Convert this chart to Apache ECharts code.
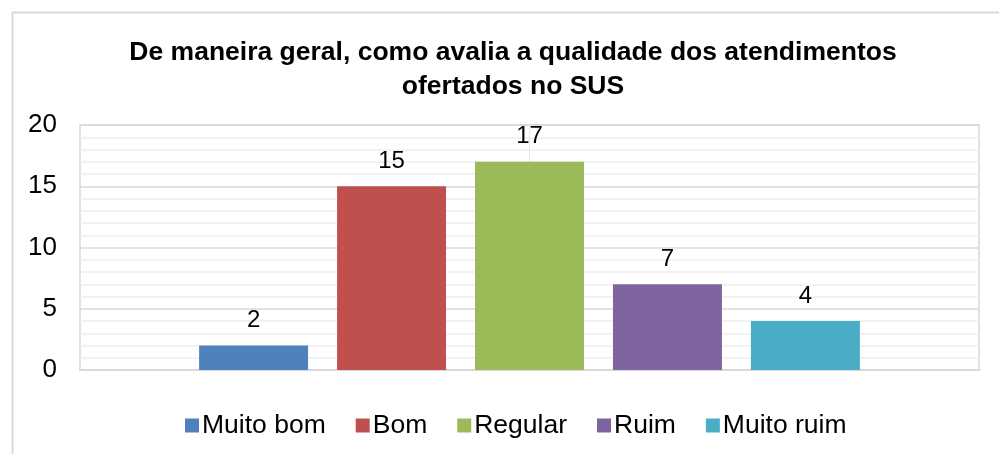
<!DOCTYPE html>
<html>
<head>
<meta charset="utf-8">
<script src="https://cdn.jsdelivr.net/npm/echarts@6/dist/echarts.min.js"></script>
<style>
html,body{margin:0;padding:0;background:#fff;}
#c{width:999px;height:454px;}
</style>
</head>
<body>
<div id="c"></div>
<script>
const titleText = 'De maneira geral, como avalia a qualidade dos atendimentos\nofertados no SUS';
const categories = ['Total'];
const seriesNames = ['Muito bom', 'Bom', 'Regular', 'Ruim', 'Muito ruim'];
const seriesValues = [2, 15, 17, 7, 4];
const seriesColors = ['#4f81bd', '#c0504d', '#9bbb59', '#8064a2', '#4bacc6'];
const yTicks = [0, 5, 10, 15, 20];

const FONT = 'Liberation Sans, Arial, sans-serif';
const chart = echarts.init(document.getElementById('c'), null, {renderer: 'canvas'});

const barSeries = seriesNames.map((name, i) => ({
  name: name,
  type: 'bar',
  data: [seriesValues[i]],
  itemStyle: {color: seriesColors[i]},
  barGap: '26.6%',
  barCategoryGap: '26.5%',
  z: 3,
  label: {
    show: true,
    position: 'top',
    distance: 13,
    color: '#000',
    fontSize: 24,
    fontFamily: FONT
  }
}));

barSeries.push({
  name: '_center',
  type: 'line',
  data: [],
  z: 1,
  silent: true,
  markLine: {
    silent: true,
    z: 1,
    symbol: 'none',
    label: {show: false},
    lineStyle: {color: '#e6e6e6', width: 1, type: 'solid'},
    data: [{xAxis: 0}]
  }
});

chart.setOption({
  animation: false,
  backgroundColor: '#fff',
  graphic: [{
    type: 'rect',
    left: 10, top: 10,
    shape: {width: 1010, height: 470},
    style: {fill: 'none', stroke: '#d9d9d9', lineWidth: 2},
    z: -1
  }],
  title: {
    text: titleText,
    left: 508,
    textAlign: 'center',
    top: 31,
    textStyle: {
      fontFamily: FONT,
      fontWeight: 'bold',
      fontSize: 26.5,
      lineHeight: 34,
      color: '#000'
    }
  },
  legend: {
    data: seriesNames,
    top: 407,
    left: 180,
    itemWidth: 14,
    itemHeight: 14,
    itemGap: 30,
    icon: 'rect',
    textStyle: {fontFamily: FONT, fontSize: 26.5, color: '#000', padding: [0, 0, 0, -2]}
  },
  grid: {
    left: 80, right: 20, top: 125, bottom: 84,
    show: true,
    borderColor: '#d9d9d9',
    borderWidth: 1.5,
    containLabel: false
  },
  xAxis: {
    type: 'category',
    data: categories,
    axisLine: {show: true, lineStyle: {color: '#d9d9d9', width: 2}},
    axisTick: {show: false},
    axisLabel: {show: false},
    splitLine: {show: false}
  },
  yAxis: {
    type: 'value',
    min: 0,
    max: 20,
    interval: 5,
    axisLine: {show: false},
    axisTick: {show: false},
    axisLabel: {
      color: '#000',
      fontSize: 26,
      fontFamily: FONT,
      margin: 23,
      formatter: v => yTicks.includes(v) ? String(v) : ''
    },
    splitLine: {show: true, lineStyle: {color: '#d9d9d9', width: 1.5}},
    minorTick: {show: false, splitNumber: 5},
    minorSplitLine: {show: true, lineStyle: {color: '#eeeeee', width: 1.5}}
  },
  series: barSeries
});
</script>
</body>
</html>
